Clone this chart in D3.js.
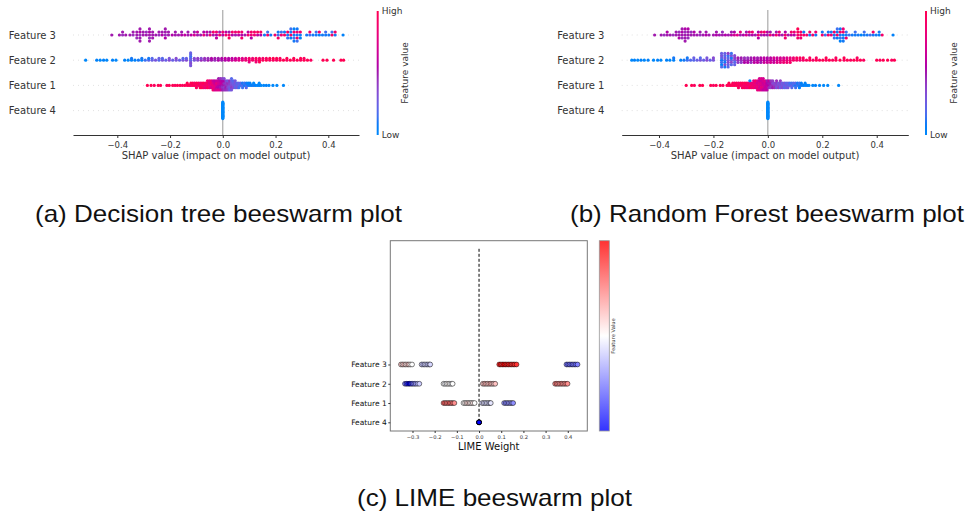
<!DOCTYPE html>
<html>
<head>
<meta charset="utf-8">
<script src="https://cdn.jsdelivr.net/npm/d3@7"></script>
<style>
  body { margin: 0; background: #fff; }
  svg { display: block; }
</style>
</head>
<body>
<svg id="fig" width="966" height="517"></svg>
<script>
// feature rows, top to bottom
var featureNames = ["Feature 3", "Feature 2", "Feature 1", "Feature 4"];
var shapTicks = [-0.4, -0.2, 0.0, 0.2, 0.4];
var limeTicks = [-0.3, -0.2, -0.1, 0.0, 0.1, 0.2, 0.3, 0.4];
var captions = ["(a) Decision tree beeswarm plot", "(b) Random Forest beeswarm plot", "(c) LIME beeswarm plot"];

// SHAP rows: [shap value, [feature value of each point at that value]]
var treeF3 = [[-.421,[.5]],[-.392,[.5]],[-.38,[.45,.5]],[-.368,[.5]],
  [-.352,[.5]],[-.34,[.45,.5]],
  [-.326,[.5,.5,.45]],[-.314,[.45,.55,.5,.5,.5]],[-.302,[.5,.5]],
  [-.29,[.5,.45]],[-.278,[.5,.55,.45,.5,.5]],[-.266,[.5,.5,.5]],[-.254,[.5]],
  [-.242,[.45,.5]],[-.23,[.55,.5]],[-.218,[.45,.5,.55,.5]],[-.206,[.5,.5]],
  [-.192,[.55]],[-.18,[.5,.5]],[-.168,[.5]],[-.156,[.55,.5]],[-.144,[.6]],[-.132,[.5,.5]],
  [-.12,[.6]],[-.108,[.7,.5]],[-.096,[.5,.65]],[-.084,[.5]],[-.072,[.8,.55]],[-.06,[.5,.6]],[-.048,[.85,.5]],
  [-.036,[.5,.9]],[-.024,[.55,.85,.6]],[-.012,[.9,.5]],[0,[.55,.85]],
  [.012,[.9,.6]],[.024,[.85,.5,.95]],[.036,[.55,.9]],[.048,[.5,.85]],[.06,[.6,.9]],[.072,[.55,.85,.9]],[.084,[.5]],
  [.096,[.9,.6]],[.108,[.85,.9,.55]],[.12,[.85,.9]],[.132,[.6,.95]],[.144,[.55,.9]],
  [.158,[.1]],[.17,[.9,.15]],[.182,[.1]],
  [.198,[.9]],[.21,[.15,.1,.9]],[.222,[.85,.15]],[.234,[.9,.1]],[.246,[.1,.9,.15]],
  [.258,[.9,.1,.05,.15]],[.27,[.1,.9,.15,.05,.1]],[.282,[.1,.85,.9,.1,.15]],[.294,[.1,.9,.05]],
  [.318,[.1]],[.33,[.15,.9]],[.342,[.1]],[.354,[.1,.15]],[.366,[.05,.9]],[.378,[.1]],[.39,[.1,.15]],
  [.402,[.1]],[.414,[.9,.15]],[.426,[.1,.9]],
  [.456,[.05]]];

var treeF2 = [[-.52,[0]],[-.478,[.05]],[-.465,[0]],[-.452,[.05]],[-.44,[0]],[-.418,[.05]],[-.405,[0]],
  [-.372,[.05]],[-.359,[0]],[-.346,[.05,.1]],[-.333,[.05]],[-.32,[.1]],[-.307,[.05,.1]],[-.294,[.15]],
  [-.281,[.2,.1]],[-.268,[.25,.2]],[-.255,[.3]],[-.242,[.2,.25]],[-.229,[.3,.2]],[-.216,[.25]],[-.203,[.35,.3]],[-.19,[.25]],
  [-.177,[.3,.35]],[-.164,[.25]],[-.151,[.3,.2]],[-.138,[.35,.25]],
  [-.122,[.2,.25,.3,.15,.35,.2,.3,.25]],
  [-.108,[.3,.35]],[-.095,[.35,.4]],[-.082,[.45,.35]],[-.069,[.4,.45]],[-.056,[.5,.45]],[-.043,[.5,.55]],[-.03,[.45,.5]],[-.017,[.55,.5]],[-.004,[.5,.55]],
  [.009,[.55,.6]],[.022,[.6,.55]],[.035,[.65,.6]],[.048,[.7,.65]],[.061,[.75,.7]],[.074,[.8,.75]],[.087,[.85,.8]],
  [.1,[.85,.9,.8]],[.113,[.9,.85]],[.126,[.9,.95,.85]],[.139,[.95,.9,1]],[.152,[.95,.9]],[.165,[1,.95]],[.178,[.9,1]],[.191,[.95,1]],
  [.204,[.9,1]],[.217,[1,.95]],[.23,[1]],[.243,[.95,1]],[.256,[1]],[.269,[.95,1]],[.282,[1]],[.295,[.95,1]],[.308,[1,.95]],[.321,[1]],[.334,[.95]],
  [.38,[1]],[.395,[1]],[.42,[1]],[.448,[1]],[.458,[1]]];

var treeF1 = [[-.286,[1]],[-.272,[1]],[-.26,[.95]],[-.245,[1]],[-.236,[1]],[-.212,[.95]],[-.203,[1]],[-.19,[1]],[-.181,[.95]],[-.172,[1]],[-.162,[1]],[-.153,[.95]],[-.144,[1]],
  [-.135,[.95,1]],[-.128,[1]],[-.121,[.9,1]],[-.114,[.95,1]],[-.107,[1,.9]],
  [-.1,[.9,1,.95]],[-.093,[.9,1]],[-.086,[.95,.85,1]],[-.079,[.9,.95,1]],[-.072,[.85,1,.9]],[-.065,[.95,.9,.8]],[-.058,[.85,.95,1,.9]],
  [-.051,[.85,.75,.9,.8]],[-.044,[.8,.9,.7,.85]],[-.037,[.85,.75,.8,.65,.9]],[-.03,[.75,.65,.8,.6,.7]],[-.023,[.7,.8,.6,.65,.75]],[-.016,[.6,.7,.55,.65,.75,.5]],[-.009,[.55,.65,.5,.6,.7,.45]],[-.002,[.5,.6,.45,.55,.5,.4]],
  [.005,[.5,.45,.4,.55,.45,.35]],[.012,[.45,.4,.5,.35,.45]],[.019,[.4,.45,.35,.3,.4]],[.026,[.35,.4,.3,.45,.25]],[.033,[.35,.3,.4,.25,.3,.2]],[.04,[.3,.25,.35,.2]],[.047,[.25,.3,.2,.3]],[.054,[.25,.2,.3]],
  [.061,[.2,.25,.15]],[.068,[.15,.2]],[.075,[.2,.1,.15]],[.082,[.1,.15]],[.089,[.15,.1,.2]],[.096,[.1,.05]],[.103,[.1,.05]],
  [.11,[.05]],[.117,[.1,0]],[.124,[.05]],[.131,[0]],[.138,[.05,0]],[.145,[0]],
  [.155,[0]],[.165,[.05]],[.175,[0]],[.19,[0]],[.205,[0]],[.23,[0]]];

var treeF4 = [[0,[0,0,0,0,0,0,0,0,0,0,0,0,0,0,0,0,0,0,0,0,0,0,0,0,0,0,0,0,0,0]]];

var forestF3 = [[-.416,[.5]],[-.392,[.5]],[-.381,[.45]],[-.37,[.5,.55]],[-.359,[.5]],[-.348,[.45]],[-.337,[.5,.5]],
  [-.326,[.5,.45,.55]],[-.315,[.5,.55,.45,.5]],[-.304,[.5,.45,.5,.55,.5]],[-.293,[.5,.5,.45,.55]],[-.282,[.5,.45]],[-.271,[.5,.55]],
  [-.26,[.5]],[-.249,[.45,.5]],[-.238,[.5]],[-.227,[.55,.5]],[-.216,[.5]],
  [-.2,[.5]],[-.189,[.55,.5]],[-.178,[.5]],[-.167,[.5,.45]],[-.156,[.55]],[-.145,[.5]],
  [-.134,[.6,.5]],[-.123,[.7,.55]],[-.112,[.75]],[-.101,[.5,.8]],[-.09,[.55]],[-.079,[.7,.5]],
  [-.068,[.5,.8]],[-.057,[.55,.85]],[-.046,[.5]],[-.035,[.9,.55,.6]],[-.024,[.5,.85]],[-.013,[.55,.9]],[-.002,[.5,.6]],
  [.009,[.85,.5]],[.02,[.55]],[.031,[.9,.5]],[.042,[.6,.85]],[.053,[.5]],[.064,[.9,.55,.85]],[.075,[.5]],[.086,[.6,.9]],[.097,[.55,.85]],
  [.11,[.9,.95,.9,1]],[.121,[.95,.9,.85]],[.132,[.9,.1]],[.143,[.85]],[.154,[.1,.9]],[.165,[.9]],[.176,[.1,.85]],
  [.2,[.9,.1]],[.211,[.15]],[.222,[.9,.1]],[.233,[.85,.1]],[.244,[.1,.9,.15]],[.255,[.9,.1,.05,.15]],[.266,[.1,.9,.15,.1,.05]],[.277,[.05,.9,.1,.85,.1]],[.288,[.1,.15,.9]],[.299,[.15]],
  [.31,[.1]],[.321,[.1,.15]],[.332,[.1]],[.343,[.05]],[.354,[.1,.15]],[.365,[.1]],
  [.376,[.15]],[.387,[.1,.9]],[.398,[.1]],[.409,[.05,.1]],[.42,[.9]],
  [.46,[.05]]];

var forestF2 = [[-.5,[0]],[-.49,[.05]],[-.478,[0]],[-.466,[.05]],[-.454,[0]],[-.44,[.05]],
  [-.42,[0]],[-.405,[.05]],[-.393,[0]],[-.372,[.05]],[-.36,[0]],[-.346,[.05,.1]],
  [-.32,[.05]],[-.308,[.1]],[-.296,[.15,.1]],[-.284,[.2]],[-.272,[.2,.25]],
  [-.26,[.25]],[-.248,[.3,.2]],[-.236,[.25]],[-.224,[.35,.3]],[-.212,[.25]],[-.2,[.3,.35]],
  [-.17,[.1,.2,.15,.3,.05,.25,.2]],[-.158,[.15,.3,.1,.2,.35,.25,.1]],[-.146,[.3,.2,.35,.15,.25,.4,.2]],[-.134,[.25,.1,.35,.3,.2,.15]],[-.122,[.3,.4,.2,.35,.25]],
  [-.11,[.45,.5,.4]],[-.098,[.45,.5,.4]],[-.086,[.5,.45,.55]],[-.074,[.5,.45,.55]],[-.062,[.55,.5,.45]],[-.05,[.5,.55,.6]],[-.038,[.55,.5,.6]],[-.026,[.6,.55,.5]],[-.014,[.55,.6,.65]],[-.002,[.6,.55,.65]],
  [.01,[.65,.6,.7]],[.022,[.6,.7,.65]],[.034,[.7,.65,.75]],[.046,[.75,.7,.8]],[.058,[.8,.7,.85]],[.07,[.8,.75,.85]],[.082,[.85,.8,.9]],[.094,[.9,.85]],[.106,[.9,.95]],[.118,[.85,.95]],[.13,[.9,.95]],
  [.142,[.95]],[.154,[1,.95]],[.166,[.9]],[.178,[1,.95]],[.19,[.95]],[.202,[1]],[.214,[.95,1]],[.226,[1]],[.238,[.95]],[.25,[1,.95]],[.265,[1]],[.28,[.95,1]],[.292,[1]],[.304,[.95]],[.316,[1]],[.328,[1,.95]],[.34,[1]],[.352,[.95]],
  [.4,[1]],[.412,[.95]],[.424,[1]],[.44,[1]],[.455,[.95]],[.465,[1]]];

var forestF1 = [[-.3,[1]],[-.28,[1]],[-.27,[.95]],[-.25,[1]],[-.24,[1]],
  [-.21,[1]],[-.2,[.95]],[-.19,[1]],[-.175,[1]],[-.165,[.95]],
  [-.15,[1]],[-.143,[.95,1]],[-.136,[1]],[-.129,[.95,1]],[-.122,[1,.9]],[-.115,[.95,1]],[-.108,[1,.9,.95]],[-.101,[.9,.95]],[-.094,[.95,1,.9]],[-.087,[.85,.95,1]],[-.08,[.9,1,.85]],[-.073,[.95,.9,.85]],[-.066,[.85,.9,1,0]],[-.059,[.9,.8,.85]],
  [-.052,[.8,.85,.9,.75]],[-.045,[.85,.8,.75,.9]],[-.038,[.8,.7,.85,.75,.8]],[-.031,[.75,.8,.7,.65,.8,.7]],[-.024,[.7,.75,.8,.65,.7,.75]],[-.017,[.7,.65,.75,.7,.6,.7]],[-.01,[.65,.7,.6,.75,.65]],[-.003,[.6,.55,.65,.5,.6]],
  [.004,[.55,.5,.45,.6]],[.011,[.45,.5,.4,.45]],[.018,[.45,.35,.5,.4]],[.025,[.4,.35,.45]],[.032,[.35,.4,.3,.45]],[.039,[.35,.3,.4]],[.046,[.3,.35,.25,.4]],[.053,[.3,.25,.35]],[.06,[.25,.3,.2]],[.067,[.3,.2,.25]],[.074,[.2,.25,.3]],[.081,[.2,.15]],[.088,[.25,.15,.2]],[.095,[.15,.2]],[.102,[.1,.2,.15]],[.109,[.15,.1]],[.116,[.1,.15,.05]],[.123,[.1,.05]],
  [.13,[.05]],[.137,[0,.05]],[.144,[.05]],[.151,[0]],
  [.165,[0]],[.175,[.05]],[.19,[0]],[.205,[0]],[.22,[0]],[.26,[0]]];

var forestF4 = [[0,[0,0,0,0,0,0,0,0,0,0,0,0,0,0,0,0,0,0,0,0,0,0,0,0,0,0,0,0,0,0]]];

// LIME rows: [weight, feature value]
var limeF3 = [[-.352,.6],[-.345,.55],[-.338,.62],[-.331,.55],[-.324,.58],[-.317,.6],[-.31,.52],[-.302,.5],
  [-.259,.42],[-.252,.38],[-.245,.4],[-.238,.42],[-.231,.38],[-.224,.4],[-.22,.42],
  [.091,.9],[.098,.95],[.105,.88],[.112,1],[.119,.92],[.126,.95],[.133,.9],[.14,.95],[.147,.88],[.154,.92],[.161,.9],[.169,.9],
  [.394,.25],[.401,.2],[.408,.25],[.415,.2],[.422,.22],[.429,.25],[.436,.2],[.444,.25]];
var limeF2 = [[-.334,.25],[-.327,.15],[-.32,.05],[-.313,0],[-.306,.1],[-.299,.2],[-.292,.25],[-.285,.3],[-.277,.35],[-.269,.4],
  [-.16,.5],[-.153,.48],[-.146,.5],[-.139,.52],[-.132,.5],[-.125,.48],[-.119,.5],
  [.017,.6],[.024,.62],[.031,.65],[.038,.6],[.045,.63],[.052,.65],[.059,.62],[.066,.6],[.073,.62],
  [.343,.72],[.35,.75],[.357,.72],[.364,.7],[.371,.75],[.378,.72],[.385,.7],[.392,.75],[.399,.72]];
var limeF1 = [[-.16,.78],[-.153,.8],[-.146,.75],[-.139,.78],[-.132,.8],[-.125,.75],[-.118,.78],[-.111,.72],
  [-.07,.5],[-.063,.52],[-.056,.55],[-.049,.58],[-.042,.55],[-.035,.52],[-.028,.55],[-.02,.5],
  [.014,.42],[.021,.45],[.028,.4],[.035,.45],[.042,.42],[.049,.4],[.053,.45],
  [.113,.3],[.12,.28],[.127,.25],[.134,.3],[.141,.28],[.148,.3],[.154,.28]];
var limeF4 = [[0,0],[0,0],[0,0]];

var svg = d3.select("#fig");
var defs = svg.append("defs");
var shapFont = "'DejaVu Sans', sans-serif";
var axisColor = "#333333";

// shap red_blue colormap (lch interpolation)
function shapColor(t) {
  var h = 266.93 + t * (380.32 - 266.93);
  var c = 70 + 20 * t;
  var l = t < 0.5 ? 54 - 28 * t : 40 + 28 * (t - 0.5);
  return d3.hcl(h % 360, c, l).formatHex();
}

var bwr = d3.scaleLinear().domain([0, 0.5, 1]).range(["#0000ff", "#ffffff", "#ff0000"]);
var bwrBar = d3.scaleLinear().domain([0, 0.5, 1]).range(["#3333ff", "#ffffff", "#ff3333"]);

function flat(rows) {
  var out = [];
  rows.forEach(function(r) {
    r[1].forEach(function(f) { out.push({v: r[0], f: f}); });
  });
  return out;
}

// same stacking as shap's summary plot
function shapSwarm(pts) {
  var nbins = 100;
  var lo = d3.min(pts, function(p) { return p.v; });
  var hi = d3.max(pts, function(p) { return p.v; });
  var quant = pts.map(function(p) { return Math.round(nbins * (p.v - lo) / (hi - lo + 1e-8)); });
  var order = d3.range(pts.length).sort(function(a, b) { return quant[a] - quant[b] || a - b; });
  var ys = pts.map(function() { return 0; });
  var layer = 0, last = -1;
  order.forEach(function(i) {
    if (quant[i] !== last) layer = 0;
    ys[i] = Math.ceil(layer / 2) * ((layer % 2) * 2 - 1);
    layer += 1;
    last = quant[i];
  });
  var k = 0.9 * 0.4 / (d3.max(ys) + 1);
  return pts.map(function(p, i) { return {v: p.v, f: p.f, dy: ys[i] * k}; });
}

var grad = defs.append("linearGradient").attr("id", "shapGrad")
  .attr("x1", 0).attr("y1", 1).attr("x2", 0).attr("y2", 0);
d3.range(0, 1.0001, 0.05).forEach(function(t) {
  grad.append("stop").attr("offset", t).attr("stop-color", shapColor(t));
});

function drawShap(cfg) {
  var g = svg.append("g");
  var x = d3.scaleLinear().domain(cfg.domain).range(cfg.range);
  var y = d3.scaleLinear().domain([0, 3]).range([35, 110.6]);

  featureNames.forEach(function(name, i) {
    g.append("line")
      .attr("x1", cfg.range[0]).attr("x2", cfg.range[1])
      .attr("y1", y(i)).attr("y2", y(i))
      .attr("stroke", "#cccccc").attr("stroke-width", 0.6)
      .attr("stroke-dasharray", "1,4");
  });

  g.append("line")
    .attr("x1", x(0)).attr("x2", x(0)).attr("y1", 10).attr("y2", 135)
    .attr("stroke", "#999999").attr("stroke-width", 1);

  cfg.rows.forEach(function(rows, i) {
    var pts = shapSwarm(flat(rows));
    g.append("g").selectAll("circle")
      .data(pts)
      .enter().append("circle")
        .attr("cx", function(d) { return x(d.v); })
        .attr("cy", function(d) { return y(i - d.dy); })
        .attr("r", 1.6)
        .attr("fill", function(d) { return shapColor(d.f); });
  });

  g.selectAll(".flabel")
    .data(featureNames)
    .enter().append("text")
      .attr("x", cfg.labelRight)
      .attr("y", function(d, i) { return y(i); })
      .attr("dy", "0.35em")
      .attr("text-anchor", "end")
      .style("font", "10px " + shapFont)
      .attr("fill", axisColor)
      .text(function(d) { return d; });

  var ax = g.append("g")
    .attr("transform", "translate(0,135)")
    .call(d3.axisBottom(x).tickValues(shapTicks).tickFormat(d3.format(".1f"))
      .tickSize(3).tickSizeOuter(0).tickPadding(4));
  ax.select(".domain").attr("stroke", axisColor);
  ax.selectAll(".tick line").attr("stroke", axisColor);
  ax.selectAll("text").style("font", "8.5px " + shapFont).attr("fill", axisColor);

  g.append("text")
    .attr("x", (cfg.range[0] + cfg.range[1]) / 2).attr("y", 158.5)
    .attr("text-anchor", "middle")
    .style("font", "10px " + shapFont).attr("fill", axisColor)
    .text("SHAP value (impact on model output)");

  // colour bar
  g.append("rect")
    .attr("x", cfg.cbX - 1).attr("y", 11).attr("width", 2).attr("height", 124)
    .attr("fill", "url(#shapGrad)");
  g.append("text").attr("x", cfg.cbX + 4).attr("y", 11).attr("dy", "0.35em")
    .style("font", "9px " + shapFont).attr("fill", axisColor).text("High");
  g.append("text").attr("x", cfg.cbX + 4).attr("y", 135).attr("dy", "0.35em")
    .style("font", "9px " + shapFont).attr("fill", axisColor).text("Low");
  g.append("text")
    .attr("transform", "translate(" + cfg.cbLabelX + ",73) rotate(-90)")
    .attr("text-anchor", "middle").attr("dy", "0.35em")
    .style("font", "9px " + shapFont).attr("fill", axisColor)
    .text("Feature value");
}

drawShap({
  rows: [treeF3, treeF2, treeF1, treeF4],
  domain: [-0.568, 0.5164], range: [73, 359],
  labelRight: 56, cbX: 377.7, cbLabelX: 405
});
drawShap({
  rows: [forestF3, forestF2, forestF1, forestF4],
  domain: [-0.537, 0.516], range: [621.7, 908.3],
  labelRight: 604.5, cbX: 926, cbLabelX: 954
});

// LIME panel
(function() {
  var g = svg.append("g");
  var x = d3.scaleLinear().domain([-0.4, 0.488]).range([390.3, 587.3]);
  var y = d3.scaleLinear().domain([-0.45, 9.42]).range([431, 240.7]);
  var limeRows = [limeF4, limeF1, limeF2, limeF3];

  g.append("line")
    .attr("x1", x(0)).attr("x2", x(0)).attr("y1", y(9)).attr("y2", y(0))
    .attr("stroke", "#000").attr("stroke-width", 1).attr("stroke-dasharray", "3,2");

  limeRows.forEach(function(rows, i) {
    g.append("g").selectAll("circle")
      .data(rows)
      .enter().append("circle")
        .attr("cx", function(d) { return x(d[0]); })
        .attr("cy", y(i))
        .attr("r", 2.4)
        .attr("fill", function(d) { return bwr(d[1]); })
        .attr("stroke", "#000").attr("stroke-width", i === 0 ? 1 : 0.5);
  });

  g.append("rect")
    .attr("x", 390.3).attr("y", 240.7).attr("width", 197).attr("height", 190.3)
    .attr("fill", "none").attr("stroke", "#777").attr("stroke-width", 1);

  var bx = g.append("g").attr("transform", "translate(0,431)")
    .call(d3.axisBottom(x).tickValues(limeTicks).tickFormat(d3.format(".1f"))
      .tickSize(2).tickSizeOuter(0).tickPadding(2.8));
  bx.select(".domain").remove();
  bx.selectAll(".tick line").attr("stroke", "#333");
  bx.selectAll("text").style("font", "5.2px " + shapFont).attr("fill", "#333");

  var lx = g.append("g").attr("transform", "translate(390.3,0)")
    .call(d3.axisLeft(y).tickValues([0, 1, 2, 3])
      .tickFormat(function(i) { return featureNames[3 - i]; })
      .tickSize(2).tickSizeOuter(0).tickPadding(1.6));
  lx.select(".domain").remove();
  lx.selectAll(".tick line").attr("stroke", "#333");
  lx.selectAll("text").style("font", "7.5px " + shapFont).attr("fill", "#111");

  g.append("text")
    .attr("x", 488.8).attr("y", 450)
    .attr("text-anchor", "middle")
    .style("font", "10px " + shapFont).attr("fill", "#111")
    .text("LIME Weight");

  var lg = defs.append("linearGradient").attr("id", "limeGrad")
    .attr("x1", 0).attr("y1", 1).attr("x2", 0).attr("y2", 0);
  [0, 0.25, 0.5, 0.75, 1].forEach(function(t) {
    lg.append("stop").attr("offset", t).attr("stop-color", bwrBar(t));
  });
  g.append("rect")
    .attr("x", 599.3).attr("y", 240.7).attr("width", 10).attr("height", 190.3)
    .attr("fill", "url(#limeGrad)").attr("stroke", "#999").attr("stroke-width", 0.8);
  g.append("text")
    .attr("transform", "translate(613,336) rotate(-90)")
    .attr("text-anchor", "middle").attr("dy", "0.35em")
    .style("font", "5.2px " + shapFont).attr("fill", "#333")
    .text("Feature Value");
})();

// captions
var capFont = "'Liberation Sans', Arial, sans-serif";
var capPos = [[218.5, 222, 367], [767, 222, 394], [494.5, 506, 275]];
captions.forEach(function(c, i) {
  svg.append("text")
    .attr("x", capPos[i][0]).attr("y", capPos[i][1])
    .attr("text-anchor", "middle")
    .attr("textLength", capPos[i][2]).attr("lengthAdjust", "spacingAndGlyphs")
    .style("font", "24px " + capFont).attr("fill", "#111")
    .text(c);
});
</script>
</body>
</html>
